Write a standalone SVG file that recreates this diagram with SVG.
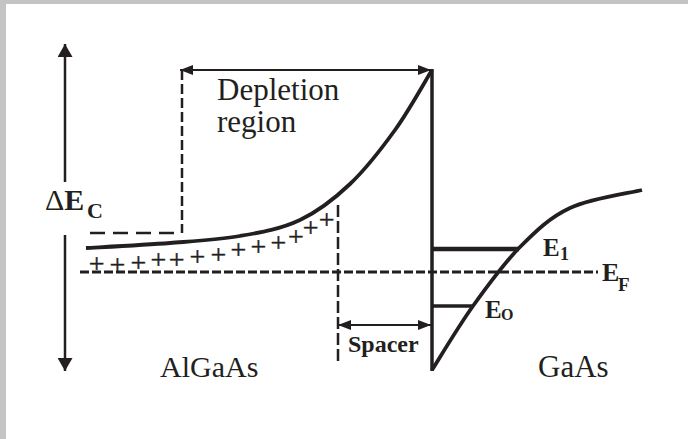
<svg xmlns="http://www.w3.org/2000/svg" width="688" height="439" viewBox="0 0 688 439">
<style>
.s{fill:none;stroke:#231f20;stroke-linecap:butt}
.t{font-family:"Liberation Serif","Times New Roman",serif;fill:#231f20}
.b{font-weight:bold}
.p{font-family:"Liberation Serif","Times New Roman",serif;fill:#231f20;font-size:28px;text-anchor:middle;stroke:#231f20;stroke-width:0.4}
</style>
<defs>
<marker id="ah" markerUnits="userSpaceOnUse" markerWidth="13" markerHeight="10" refX="13" refY="5" orient="auto-start-reverse" viewBox="0 0 13 10">
<path d="M0,0 L13,5 L0,10 Z" fill="#231f20"/>
</marker>
<marker id="ahb" markerUnits="userSpaceOnUse" markerWidth="13" markerHeight="15" refX="13" refY="7.5" orient="auto-start-reverse" viewBox="0 0 13 15">
<path d="M0,0 L13,7.5 L0,15 Z" fill="#231f20"/>
</marker>
</defs>
<rect x="0" y="0" width="688" height="439" fill="#c4c4c4"/>
<rect x="6" y="4" width="682" height="435" fill="#ffffff"/>

<g id="connectors">
<line class="s" x1="65" y1="182" x2="65" y2="44" stroke-width="2.5" marker-end="url(#ahb)"/>
<line class="s" x1="65" y1="235" x2="65" y2="371" stroke-width="2.5" marker-end="url(#ahb)"/>
<line class="s" x1="180" y1="70" x2="431" y2="70" stroke-width="2" marker-start="url(#ah)" marker-end="url(#ah)"/>
<line class="s" x1="182" y1="70" x2="182" y2="233" stroke-width="2.5" stroke-dasharray="10,4"/>
<line class="s" x1="90" y1="233" x2="175" y2="233" stroke-width="2.5" stroke-dasharray="15,8"/>
<line class="s" x1="80" y1="272" x2="598" y2="272" stroke-width="3" stroke-dasharray="9,3"/>
<line class="s" x1="338" y1="205" x2="338" y2="362" stroke-width="2.5" stroke-dasharray="12,4"/>
<line class="s" x1="338" y1="325" x2="431" y2="325" stroke-width="2" marker-start="url(#ah)" marker-end="url(#ah)"/>
<path class="s" stroke-width="3.8" d="M86,248 C100,247.2 144.3,245 170,243 C195.7,241 218.3,239.8 240,236 C261.7,232.2 281.7,228.7 300,220 C318.3,211.3 334.2,199 350,184 C365.8,169 381.3,149 395,130 C408.7,111 425.8,80 432,70"/>
<line class="s" x1="432" y1="69" x2="432" y2="371" stroke-width="3.5"/>
<path class="s" stroke-width="3.8" d="M432,370 C438.8,359.3 458.3,326.5 473,306 C487.7,285.5 503.8,263.3 520,247 C536.2,230.7 549.7,217.5 570,208 C590.3,198.5 630,193 642,190"/>
<line class="s" x1="432" y1="249" x2="519" y2="249" stroke-width="4.5"/>
<line class="s" x1="432" y1="306" x2="474" y2="306" stroke-width="3.5"/>
</g>

<g id="donors">
<text class="p" x="96.7" y="272.5">+</text>
<text class="p" x="117.3" y="274">+</text>
<text class="p" x="138.3" y="271.5">+</text>
<text class="p" x="158.3" y="269.3">+</text>
<text class="p" x="176.7" y="269.3">+</text>
<text class="p" x="197.3" y="266">+</text>
<text class="p" x="218.3" y="264">+</text>
<text class="p" x="238.3" y="259.3">+</text>
<text class="p" x="258.3" y="256">+</text>
<text class="p" x="278.3" y="251.5">+</text>
<text class="p" x="296" y="246">+</text>
<text class="p" x="310.7" y="236.5">+</text>
<text class="p" x="326.7" y="228.5">+</text>
</g>

<g id="label-dEc">
<text class="t" x="45" y="210" font-size="30">Δ<tspan class="b">E</tspan></text>
<text class="t b" x="87" y="218" font-size="22">C</text>
</g>
<g id="label-depletion">
<text class="t" x="217" y="100" font-size="31">Depletion</text>
<text class="t" x="217" y="132" font-size="31">region</text>
</g>
<g id="label-spacer">
<text class="t b" x="348" y="352" font-size="24">Spacer</text>
</g>
<g id="label-E1">
<text class="t b" x="543" y="256" font-size="25">E</text>
<text class="t b" x="560" y="260" font-size="18">1</text>
</g>
<g id="label-E0">
<text class="t b" x="485" y="318" font-size="25">E</text>
<text class="t b" x="501" y="320" font-size="16">O</text>
</g>
<g id="label-EF">
<text class="t b" x="602" y="281" font-size="26">E</text>
<text class="t b" x="618" y="291" font-size="19">F</text>
</g>
<g id="label-AlGaAs">
<text class="t" x="160" y="377" font-size="30">AlGaAs</text>
</g>
<g id="label-GaAs">
<text class="t" x="538" y="377" font-size="31">GaAs</text>
</g>
</svg>
